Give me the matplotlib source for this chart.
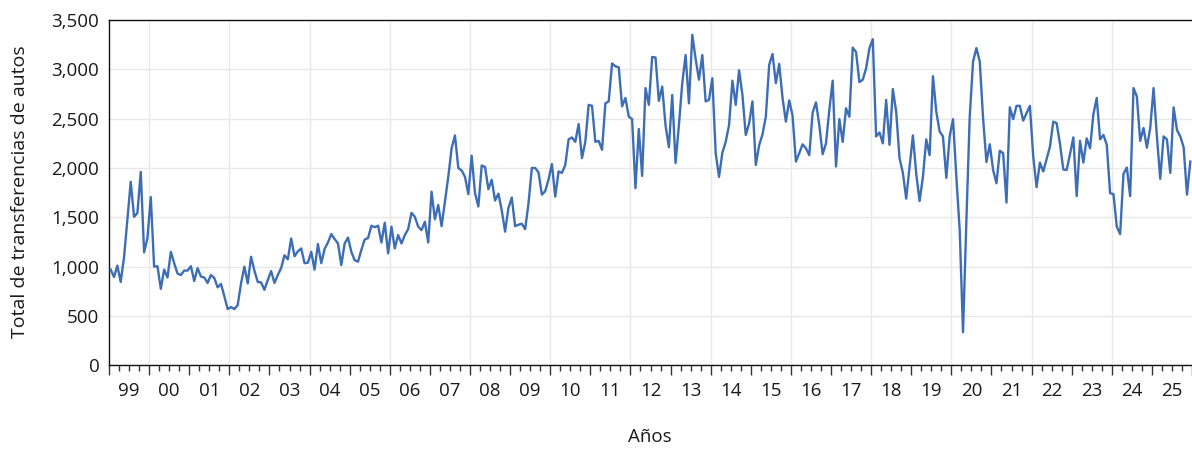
import numpy as np
import matplotlib
matplotlib.use('Agg')
import matplotlib.pyplot as plt
from matplotlib.ticker import FuncFormatter, MultipleLocator

plt.rcParams['font.family'] = ['Open Sans', 'DejaVu Sans']

# monthly totals, one list per year (Jan..Dec)
y1999 = [970, 895, 1010, 845, 1095, 1475, 1860, 1505, 1545, 1960, 1145, 1290]
y2000 = [1705, 1000, 1005, 775, 970, 890, 1150, 1035, 930, 915, 960, 960]
y2001 = [1005, 855, 985, 900, 890, 835, 915, 885, 790, 825, 700, 570]
y2002 = [590, 570, 610, 830, 1000, 830, 1100, 960, 845, 840, 765, 865]
y2003 = [955, 835, 915, 985, 1115, 1075, 1285, 1105, 1155, 1185, 1035, 1040]
y2004 = [1150, 970, 1230, 1035, 1180, 1245, 1330, 1280, 1235, 1015, 1235, 1295]
y2005 = [1150, 1065, 1050, 1170, 1275, 1290, 1415, 1400, 1415, 1245, 1445, 1135]
y2006 = [1405, 1185, 1320, 1235, 1320, 1380, 1545, 1505, 1405, 1370, 1455, 1245]
y2007 = [1760, 1480, 1625, 1410, 1660, 1910, 2200, 2330, 2000, 1975, 1910, 1735]
y2008 = [2125, 1745, 1610, 2025, 2010, 1785, 1880, 1670, 1740, 1570, 1355, 1595]
y2009 = [1700, 1410, 1425, 1435, 1380, 1640, 2000, 2000, 1955, 1730, 1765, 1885]
y2010 = [2040, 1710, 1965, 1950, 2030, 2290, 2310, 2265, 2445, 2100, 2265, 2640]
y2011 = [2630, 2265, 2275, 2185, 2655, 2675, 3060, 3030, 3020, 2625, 2710, 2520]
y2012 = [2495, 1795, 2395, 1920, 2810, 2640, 3125, 3120, 2680, 2825, 2430, 2210]
y2013 = [2740, 2050, 2435, 2860, 3145, 2655, 3350, 3105, 2895, 3145, 2675, 2690]
y2014 = [2910, 2150, 1910, 2155, 2265, 2435, 2885, 2640, 2990, 2740, 2335, 2450]
y2015 = [2675, 2030, 2230, 2340, 2520, 3045, 3155, 2860, 3055, 2710, 2470, 2685]
y2016 = [2530, 2065, 2150, 2240, 2200, 2130, 2560, 2665, 2435, 2140, 2250, 2590]
y2017 = [2885, 2015, 2495, 2265, 2605, 2520, 3220, 3175, 2870, 2895, 3010, 3215]
y2018 = [3305, 2320, 2360, 2250, 2690, 2235, 2800, 2570, 2100, 1950, 1690, 2010]
y2019 = [2330, 1940, 1665, 1910, 2290, 2130, 2930, 2570, 2370, 2320, 1900, 2320]
y2020 = [2495, 1910, 1370, 335, 1465, 2520, 3080, 3215, 3080, 2505, 2060, 2240]
y2021 = [1980, 1845, 2175, 2150, 1650, 2615, 2495, 2630, 2630, 2480, 2555, 2630]
y2022 = [2115, 1805, 2055, 1965, 2090, 2215, 2470, 2455, 2245, 1985, 1980, 2140]
y2023 = [2310, 1715, 2275, 2055, 2300, 2200, 2545, 2710, 2290, 2335, 2235, 1745]
y2024 = [1735, 1405, 1330, 1940, 2005, 1715, 2810, 2725, 2275, 2405, 2205, 2405]
y2025 = [2810, 2320, 1890, 2320, 2290, 1950, 2615, 2385, 2320, 2210, 1730, 2065]

years = list(range(1999, 2026))
year_labels = ['%02d' % (y % 100) for y in years]

values = np.array(y1999 + y2000 + y2001 + y2002 + y2003 + y2004 + y2005 + y2006
                  + y2007 + y2008 + y2009 + y2010 + y2011 + y2012 + y2013
                  + y2014 + y2015 + y2016 + y2017 + y2018 + y2019 + y2020
                  + y2021 + y2022 + y2023 + y2024 + y2025)
# month centers, in fractional years
x = years[0] + (np.arange(len(values)) + 0.5) / 12

fig = plt.figure(figsize=(11.92, 4.5), dpi=100)
ax = fig.add_axes([109 / 1192, 84.7 / 450, 1083 / 1192, 345.3 / 450])

ax.plot(x, values, color='#3d6db5', lw=1.7, zorder=3)

ax.set_xlim(1999, 2026)
ax.set_ylim(0, 3500)

# grid: horizontal every 500, vertical every two years
ax.yaxis.set_major_locator(MultipleLocator(500))
ax.yaxis.grid(True, color='#e8e8e8', lw=1)
for y in range(2000, 2026, 2):
    ax.axvline(y, color='#e8e8e8', lw=1, zorder=0)
ax.set_axisbelow(True)

ax.yaxis.set_major_formatter(FuncFormatter(lambda v, p: '{:,.0f}'.format(v)))
ax.tick_params(axis='y', length=0, pad=7, labelsize=13.5, labelcolor='#1a1a1a')

ax.set_xticks(range(1999, 2027))
ax.set_xticks(np.arange(1999, 2026, 0.25), minor=True)
ax.set_xticklabels([])
ax.tick_params(axis='x', which='major', length=7, width=1, color='#333333')
ax.tick_params(axis='x', which='minor', length=4, width=1, color='#333333')

for y, lab in zip(years, year_labels):
    ax.annotate(lab, xy=(y + 0.5, 0), xycoords=('data', 'axes fraction'),
                xytext=(0, -18.5), textcoords='offset points',
                ha='center', va='center', fontsize=13.5, color='#1a1a1a')

for side in ['left', 'bottom', 'top']:
    ax.spines[side].set_color('#111111')
    ax.spines[side].set_linewidth(1)
ax.spines['right'].set_visible(False)

fig.text(650 / 1192, 1 - 437 / 450, 'Años', ha='center', va='center',
         fontsize=13.5, color='#1a1a1a')
fig.text(20 / 1192, 1 - 192 / 450, 'Total de transferencias de autos',
         rotation=90, ha='center', va='center', fontsize=14, color='#1a1a1a')

fig.savefig('out.png', dpi=100)
